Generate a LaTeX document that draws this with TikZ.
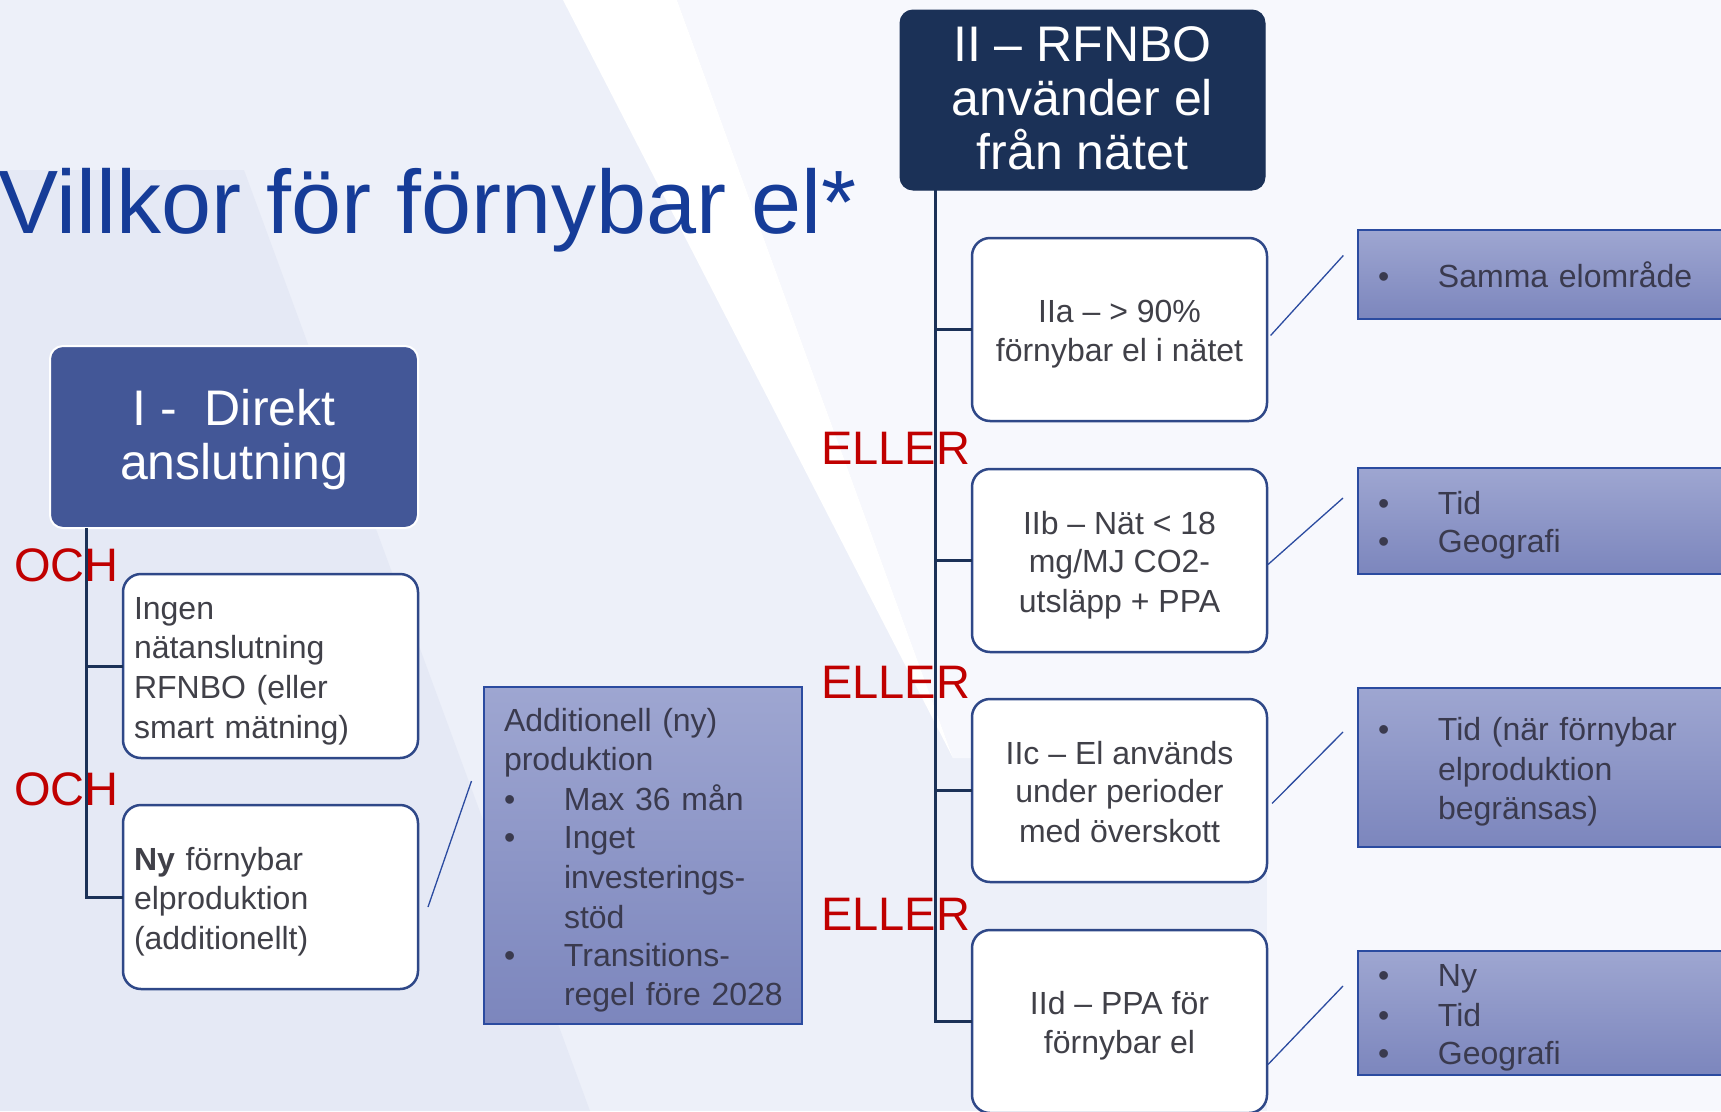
\documentclass[tikz,border=0pt]{standalone}
\usepackage{fontspec}
\setmainfont{Liberation Sans}
\definecolor{bgA}{RGB}{237,240,249}
\definecolor{bgB}{RGB}{229,233,245}
\definecolor{bgC}{RGB}{247,248,253}
\definecolor{titleblue}{RGB}{22,60,152}
\definecolor{boxIblue}{RGB}{67,87,151}
\definecolor{navy}{RGB}{27,49,87}
\definecolor{wborder}{RGB}{47,72,136}
\definecolor{textgray}{RGB}{64,64,72}
\definecolor{btext}{RGB}{58,58,78}
\definecolor{bluetop}{RGB}{158,166,209}
\definecolor{bluebot}{RGB}{124,134,189}
\definecolor{bborder}{RGB}{43,75,160}
\definecolor{connblue}{RGB}{43,75,160}
\definecolor{redlbl}{RGB}{192,0,0}
\newcommand\sstrut{\rule[-6.4pt]{0pt}{38.4pt}}
\newcommand\astrut{\sstrut\hspace*{11pt}}
\newcommand\bstrut{\rule[-12pt]{0pt}{54pt}}
\newcommand\bul{\makebox[55pt][l]{\hspace*{-5pt}•}}
\newcommand\abul{\makebox[60pt][l]{•}}
\newcommand\aind{\hspace*{60pt}}
\begin{document}
\begin{tikzpicture}[x=1pt,y=-1pt,
  titlestyle/.style={font=\fontsize{90}{100}\selectfont, text=titleblue, inner sep=0, anchor=base west},
  lbl/.style={font=\fontsize{47}{50}\selectfont, text=redlbl, inner sep=0, anchor=base west},
  bigbox/.style={rounded corners=13, font=\fontsize{50}{54}\selectfont, text=white, align=center, inner sep=0, outer sep=0},
  wbox/.style={rounded corners=18, fill=white, draw=wborder, line width=2.5, minimum width=295, minimum height=183,
     font=\fontsize{32}{38.4}\selectfont, text=textgray, inner sep=0, outer sep=0},
  wboxc/.style={wbox, align=center},
  wboxl/.style={wbox, align=left, text width=273, inner xsep=11, inner ysep=0},
  bbox/.style={top color=bluetop, bottom color=bluebot, draw=bborder, line width=1.5,
     font=\fontsize{32}{38.4}\selectfont, text=btext, align=left, inner ysep=0, outer sep=0},
  tree/.style={draw=navy, line width=3},
  conn/.style={draw=connblue, line width=1.3}]
\useasboundingbox (0,0) rectangle (1721,1111);
% background
\fill[bgA] (0,0) rectangle (1721,1111);
\fill[bgB] (0,170) -- (244,170) -- (590,1111) -- (0,1111) -- cycle;
\fill[bgC] (677,0) -- (1721,0) -- (1721,1111) -- (1267,1111) -- (1267,758) -- (953,758) -- cycle;
\fill[white] (563,0) -- (677,0) -- (953,758) -- cycle;
% title
\node[titlestyle] (title) at (-2,233) {Villkor för förnybar el*};
% labels
\node[lbl] (och1) at (14,581) {OCH};
\node[lbl] (och2) at (14,805) {OCH};
\node[lbl] (eller1) at (821,464) {ELLER};
\node[lbl] (eller2) at (821,698) {ELLER};
\node[lbl] (eller3) at (821,930) {ELLER};
% main boxes
\node[bigbox, fill=boxIblue, draw=white, line width=2, minimum width=368, minimum height=182] (BI) at (234,437)
  {\bstrut I -~ Direkt\\\bstrut anslutning};
\node[bigbox, fill=navy, draw=navy, line width=1, minimum width=365, minimum height=180] (BII) at (1082.5,100)
  {\bstrut II – RFNBO\\\bstrut använder el\\\bstrut från nätet};
% left branch
\node[wboxl, minimum height=184] (Ingen) at (270.5,666)
  {\sstrut Ingen\\\sstrut nätanslutning\\\sstrut RFNBO (eller\\\sstrut smart mätning)};
\node[wboxl, minimum height=184] (Ny) at (270.5,897)
  {\sstrut\textbf{Ny} förnybar\\\sstrut elproduktion\\\sstrut (additionellt)};
\node[bbox, text width=300, inner xsep=9, minimum height=337] (Add) at (643,855.5)
  {\astrut Additionell (ny)\\\astrut produktion\\\astrut\abul Max 36 mån\\\astrut\abul Inget\\\astrut\aind investerings-\\\astrut\aind stöd\\\astrut\abul Transitions-\\\astrut\aind regel före 2028};
% right branch
\node[wboxc] (IIa) at (1119.5,329.5) {\sstrut IIa – > 90\%\\\sstrut förnybar el i nätet};
\node[wboxc] (IIb) at (1119.5,560.5) {\sstrut IIb – Nät < 18\\\sstrut mg/MJ CO2-\\\sstrut utsläpp + PPA};
\node[wboxc] (IIc) at (1119.5,790.5) {\sstrut IIc – El används\\\sstrut under perioder\\\sstrut med överskott};
\node[wboxc] (IId) at (1119.5,1021.5) {\sstrut IId – PPA för\\\sstrut förnybar el};
\node[bbox, text width=332, inner xsep=25, minimum height=89] (B1) at (1549,274.5) {\sstrut\bul Samma elområde};
\node[bbox, text width=332, inner xsep=25, minimum height=106] (B2) at (1549,521) {\sstrut\bul Tid\\\sstrut\bul Geografi};
\node[bbox, text width=332, inner xsep=25, minimum height=159] (B3) at (1549,767.5) {\sstrut\bul Tid (när förnybar\\\sstrut\hspace*{55pt}elproduktion\\\sstrut\hspace*{55pt}begränsas)};
\node[bbox, text width=332, inner xsep=25, minimum height=124] (B4) at (1549,1013) {\sstrut\bul Ny\\\sstrut\bul Tid\\\sstrut\bul Geografi};
% tree lines
\draw[tree] ([shift={(36,0)}]BI.south west) |- (Ingen.west);
\draw[tree] ([shift={(36,0)}]BI.south west) |- (Ny.west);
\draw[tree] ([shift={(35,0)}]BII.south west) |- (IIa.west);
\draw[tree] ([shift={(35,0)}]BII.south west) |- (IIb.west);
\draw[tree] ([shift={(35,0)}]BII.south west) |- (IIc.west);
\draw[tree] ([shift={(35,0)}]BII.south west) |- (IId.west);
% connectors
\draw[conn] ([shift={(10,10)}]Ny.east) -- ([shift={(-12.5,-74.5)}]Add.west);
\draw[conn] ([shift={(3.6,6)}]IIa.east) -- ([shift={(-14.7,-19)}]B1.west);
\draw[conn] ([shift={(1,4)}]IIb.east) -- ([shift={(-15,-23)}]B2.west);
\draw[conn] ([shift={(5,13)}]IIc.east) -- ([shift={(-15,-35.5)}]B3.west);
\draw[conn] ([shift={(1,43)}]IId.east) -- ([shift={(-15,-27)}]B4.west);
\end{tikzpicture}
\end{document}
